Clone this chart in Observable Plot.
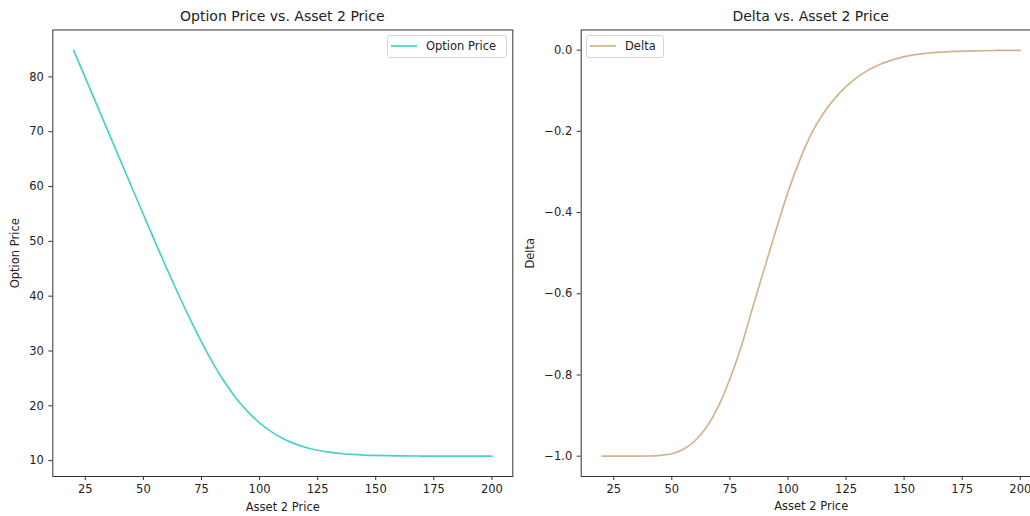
<!DOCTYPE html>
<html><head><meta charset="utf-8">
<script src="https://cdn.jsdelivr.net/npm/d3@7"></script>
<script src="https://cdn.jsdelivr.net/npm/@observablehq/plot@0.6"></script>
<style>
body{margin:0;width:1030px;height:516px;overflow:hidden;background:#fff;font-family:"DejaVu Sans",sans-serif;position:relative}
.panel{position:absolute;top:0}
.panel svg{max-width:none !important}
.title{position:absolute;top:8px;font-size:14px;line-height:17px;color:#222;white-space:nowrap;transform:translateX(-50%)}
.legend{position:absolute;box-sizing:border-box;border:1px solid #d6d6d6;border-radius:3px;background:#fff;font-size:11.5px;color:#222;display:flex;align-items:center;padding-left:3px}
.legend svg{margin-right:9px}
</style></head><body>
<script>
const assetPrice = [20,30,40,45,50,55,60,65,70,75,80,85,90,95,100,105,110,115,120,125,130,135,140,145,150,160,170,180,190,200];
const optionPrice = [84.85,74.85,64.85,59.87,54.9,49.95,45.1,40.4,35.9,31.65,27.75,24.3,21.35,18.9,16.9,15.3,14.05,13.1,12.4,11.9,11.55,11.3,11.13,11.02,10.95,10.87,10.84,10.825,10.815,10.81];
const deltaValues = [-1.0,-1.0,-0.9995,-0.998,-0.994,-0.983,-0.962,-0.928,-0.878,-0.81,-0.728,-0.63,-0.535,-0.44,-0.35,-0.272,-0.207,-0.158,-0.12,-0.09,-0.066,-0.048,-0.034,-0.024,-0.016,-0.0075,-0.0035,-0.0016,-0.0008,-0.0004];
const xTicks = [25,50,75,100,125,150,175,200];
const priceTicks = [10,20,30,40,50,60,70,80];
const deltaTicks = [-1.0,-0.8,-0.6,-0.4,-0.2,0.0];

const optionData = assetPrice.map((x,i)=>({x, y: optionPrice[i]}));
const deltaData = assetPrice.map((x,i)=>({x, y: deltaValues[i]}));

function pad(arr){const mn=d3.min(arr),mx=d3.max(arr),m=(mx-mn)*0.05;return [mn-m,mx+m];}
const xDomain = pad(assetPrice);

function panel({left,width,marginLeft,marginRight,data,yDomain,yTicks,yFmt,ylabel,color,title,legendLeft,legendW,legendText}){
  const chart = Plot.plot({
    width, height:516,
    marginLeft, marginRight, marginTop:29.5, marginBottom:40,
    style:{fontFamily:"DejaVu Sans",fontSize:"11.5px",color:"#333",background:"transparent",maxWidth:"none"},
    x:{domain:xDomain},
    y:{domain:yDomain},
    marks:[
      Plot.line(data,{x:"x",y:"y",stroke:color,strokeWidth:1.7,curve:"monotone-x"}),
      Plot.frame({stroke:"#333",strokeWidth:1}),
      Plot.axisX({ticks:xTicks,tickSize:4,tickPadding:4,tickFormat:d3.format("d"),label:"Asset 2 Price",labelAnchor:"center",labelArrow:"none",labelOffset:34,fill:"#222"}),
      Plot.axisY({ticks:yTicks,tickSize:4,tickPadding:5,tickFormat:yFmt,label:ylabel,labelAnchor:"center",labelArrow:"none",labelOffset:marginLeft-10,fill:"#222"})
    ]
  });
  chart.style.maxWidth="none";
  const div=document.createElement("div");div.className="panel";div.style.left=left+"px";div.style.width=width+"px";div.appendChild(chart);document.body.appendChild(div);
  const t=document.createElement("div");t.className="title";t.textContent=title;
  t.style.left=(left+marginLeft+(width-marginLeft-marginRight)/2)+"px";document.body.appendChild(t);
  const lg=document.createElement("div");lg.className="legend";
  lg.style.left=legendLeft+"px";lg.style.top="35px";lg.style.width=legendW+"px";lg.style.height="22.5px";
  lg.innerHTML=`<svg width="26" height="4"><line x1="0" x2="26" y1="2" y2="2" stroke="${color}" stroke-width="1.7"/></svg><span>${legendText}</span>`;
  document.body.appendChild(lg);
}

panel({left:0,width:515,marginLeft:52.3,marginRight:2.7,data:optionData,yDomain:pad(optionPrice),yTicks:priceTicks,yFmt:d3.format("d"),ylabel:"Option Price",color:"#48D1CC",title:"Option Price vs. Asset 2 Price",legendLeft:387,legendW:120,legendText:"Option Price"});
panel({left:515,width:545.7,marginLeft:65.7,marginRight:20,data:deltaData,yDomain:pad(deltaValues),yTicks:deltaTicks,yFmt:d3.format(".1f"),ylabel:"Delta",color:"#D2B48C",title:"Delta vs. Asset 2 Price",legendLeft:586,legendW:78,legendText:"Delta"});
</script>
</body></html>
